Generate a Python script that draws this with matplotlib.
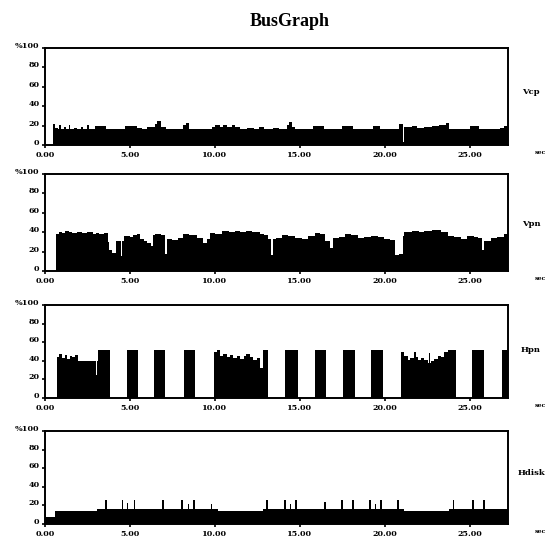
import numpy as np
import matplotlib
matplotlib.use('Agg')
import matplotlib.pyplot as plt

# Bus utilisation (%) as step series: start time of each step (sec) and its value
vcp_t = [0.45, 0.6, 0.75, 0.85, 0.95, 1.1, 1.25, 1.4, 1.5, 1.7, 1.9, 2.1, 2.25, 2.5, 2.6,
         2.95, 3.6, 3.9, 4.2, 4.7, 5.4, 5.7, 6.0, 6.45, 6.6, 6.85, 7.1, 7.6, 8.1, 8.3,
         8.5, 8.8, 9.3, 9.8, 10.0, 10.3, 10.5, 10.7, 11.0, 11.2, 11.5, 11.9, 12.3, 12.6, 12.9,
         13.4, 13.8, 14.25, 14.35, 14.55, 14.7, 15.3, 15.8, 16.4, 16.9, 17.5, 18.1, 18.6, 19.3, 19.7,
         20.2, 20.85, 21.05, 21.15, 21.6, 21.9, 22.3, 22.8, 23.2, 23.6, 23.8, 24.3, 25.0, 25.55, 26.2,
         26.8, 27.0, 27.25]
vcp_v = [22, 18, 17, 21, 17, 19, 17, 21, 17, 18, 17, 19, 17, 21, 17,
         20, 17, 16, 17, 20, 18, 17, 19, 22, 25, 19, 17, 16, 21, 23,
         17, 16, 17, 19, 21, 19, 21, 19, 21, 19, 17, 18, 17, 19, 17,
         18, 17, 21, 24, 19, 17, 16, 20, 17, 16, 20, 16, 17, 20, 17,
         16, 22, 3, 19, 20, 18, 19, 20, 21, 23, 17, 16, 20, 16, 17,
         18, 20, 20]

vpn_t = [0.66, 0.8, 1.0, 1.2, 1.4, 1.6, 1.9, 2.2, 2.5, 2.8, 3.0, 3.2, 3.48, 3.7, 3.78,
         3.97, 4.16, 4.45, 4.55, 4.65, 5.0, 5.2, 5.43, 5.62, 5.82, 6.0, 6.21, 6.35, 6.5, 6.8,
         7.08, 7.18, 7.5, 7.8, 8.15, 8.5, 8.93, 9.32, 9.51, 9.71, 10.0, 10.39, 10.8, 11.2, 11.5,
         11.85, 12.2, 12.63, 12.9, 13.11, 13.3, 13.4, 13.6, 13.93, 14.3, 14.71, 15.1, 15.49, 15.88, 16.2,
         16.46, 16.76, 16.95, 17.3, 17.64, 18.0, 18.42, 18.8, 19.2, 19.6, 19.98, 20.3, 20.57, 20.86, 21.05,
         21.15, 21.6, 22.0, 22.32, 22.8, 23.3, 23.69, 24.1, 24.47, 24.86, 25.25, 25.5, 25.74, 25.84, 26.23,
         26.6, 27.01, 27.25]
vpn_v = [38, 40, 39, 41, 40, 39, 40, 39, 40, 38, 39, 38, 39, 30, 22,
         19, 31, 15, 31, 36, 35, 37, 38, 33, 31, 29, 26, 37, 38, 37,
         18, 33, 32, 34, 38, 37, 34, 29, 33, 39, 38, 41, 40, 41, 40,
         41, 40, 38, 37, 33, 17, 33, 34, 37, 36, 34, 33, 36, 39, 38,
         31, 24, 34, 35, 38, 37, 34, 35, 36, 35, 33, 32, 17, 18, 36,
         40, 41, 40, 41, 42, 40, 36, 35, 33, 36, 35, 34, 22, 31, 34,
         35, 38, 38]

hpn_t = [0.72, 0.85, 1.0, 1.15, 1.3, 1.45, 1.6, 1.75, 1.93, 3.0, 3.08, 3.13, 3.83, 4.81, 5.49,
         6.4, 7.08, 8.19, 8.83, 9.94, 10.15, 10.29, 10.5, 10.7, 10.9, 11.07, 11.3, 11.5, 11.7, 11.85,
         12.05, 12.24, 12.45, 12.63, 12.82, 13.11, 14.12, 14.9, 15.88, 16.56, 17.54, 18.22, 19.2, 19.88, 20.96,
         21.15, 21.35, 21.5, 21.74, 21.85, 21.93, 22.13, 22.3, 22.52, 22.6, 22.66, 22.71, 22.9, 23.11, 23.3,
         23.5, 23.69, 24.18, 25.16, 25.84, 26.91, 27.25]
hpn_v = [44, 47, 43, 46, 42, 45, 44, 46, 40, 25, 40, 52, 0, 52, 0,
         52, 0, 52, 0, 50, 52, 45, 47, 44, 46, 43, 45, 42, 45, 47,
         44, 41, 43, 32, 52, 0, 52, 0, 52, 0, 52, 0, 52, 0, 49,
         45, 41, 43, 50, 44, 41, 43, 41, 38, 48, 38, 40, 42, 45, 44,
         50, 52, 0, 52, 0, 52, 52]

hdisk_t = [0.0, 0.08, 0.59, 3.04, 3.55, 3.65, 4.52, 4.62, 4.8, 4.88, 5.22, 5.32, 6.9, 7.0, 8.02,
           8.12, 8.4, 8.48, 8.72, 8.82, 9.75, 9.85, 10.2, 12.85, 13.0, 13.1, 14.08, 14.18, 14.42, 14.5,
           14.72, 14.82, 16.42, 16.52, 17.42, 17.52, 18.08, 18.18, 19.08, 19.18, 19.4, 19.48, 19.74, 19.84, 20.74,
           20.84, 21.1, 23.8, 24.0, 24.1, 25.15, 25.25, 25.8, 25.9, 27.25]
hdisk_v = [25, 7, 14, 16, 26, 16, 26, 16, 23, 16, 26, 16, 26, 16, 26,
           16, 21, 16, 26, 16, 21, 16, 14, 16, 26, 16, 26, 16, 21, 16,
           26, 16, 24, 16, 26, 16, 26, 16, 26, 16, 21, 16, 26, 16, 26,
           16, 14, 16, 26, 16, 26, 16, 26, 16, 16]

names = ['Vcp', 'Vpn', 'Hpn', 'Hdisk']
x_ticks = [0, 5, 10, 15, 20, 25]
x_labels = ['0.00', '5.00', '10.00', '15.00', '20.00', '25.00']
y_ticks = [0, 20, 40, 60, 80, 100]
y_labels = ['0', '20', '40', '60', '80', '%100']

TITLE_FONT = 'Liberation Serif'
FONT = 'DejaVu Serif'
W, H = 548, 540

# panel placement in pixels (top edge, height) and name label height (axes fraction)
panel_top = [48, 174, 305, 431]
panel_h = [97, 97, 93, 93]
name_y = [0.55, 0.48, 0.52, 0.55]
left_px, right_px = 45, 508


def draw_panel(ax, t, v, name, ny):
    # step-filled utilisation trace
    ax.fill_between(t, v, step='post', color='black', linewidth=0)
    ax.set_xlim(0, 27.25)
    ax.set_ylim(0, 100)

    ax.set_xticks(x_ticks)
    ax.set_xticklabels(x_labels, fontsize=5.8, fontweight='bold', family=FONT)
    ax.set_yticks(y_ticks)
    ax.set_yticklabels(y_labels, fontsize=5.8, fontweight='bold', family=FONT)
    for lbl in ax.get_yticklabels():
        lbl.set_verticalalignment('baseline')
    ax.tick_params(direction='out', length=2.5, width=1.2, pad=1.5)

    for s in ax.spines.values():
        s.set_linewidth(1.4)

    ax.text(1.05, ny, name, transform=ax.transAxes, ha='center', va='center',
            fontsize=6, fontweight='bold', family=FONT)
    ax.text(1.07, -0.08, 'sec', transform=ax.transAxes, ha='center', va='center',
            fontsize=4.5, fontweight='bold', family=FONT)


fig = plt.figure(figsize=(W / 100, H / 100), dpi=100)
fig.text(0.529, 1 - 21 / H, 'BusGraph', ha='center', va='center',
         fontsize=13, fontweight='bold', family=TITLE_FONT)

series = [(vcp_t, vcp_v), (vpn_t, vpn_v), (hpn_t, hpn_v), (hdisk_t, hdisk_v)]
for i, (t, v) in enumerate(series):
    rect = [left_px / W, 1 - (panel_top[i] + panel_h[i]) / H,
            (right_px - left_px) / W, panel_h[i] / H]
    ax = fig.add_axes(rect)
    draw_panel(ax, t, v, names[i], name_y[i])

fig.savefig('out.png', dpi=100)
